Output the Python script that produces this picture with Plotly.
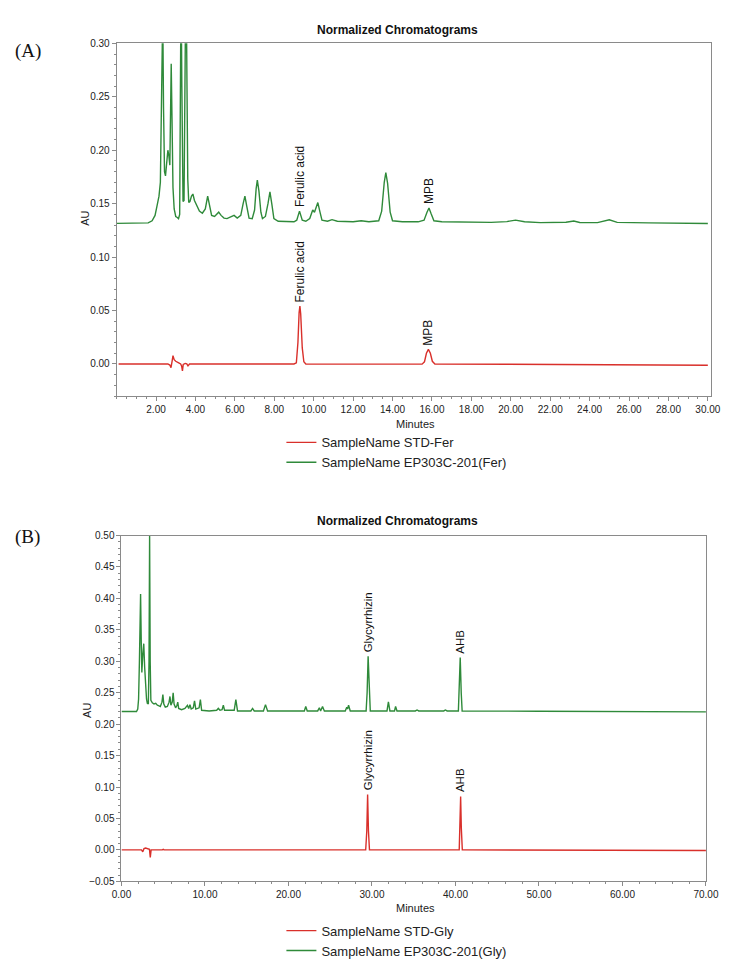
import plotly.graph_objects as go

# ---------------- Data ----------------
# Panel A: ferulic acid chromatograms (minutes, AU)
a_green_t = [0.00, 1.00, 1.60, 1.80, 1.95, 2.05, 2.15, 2.22, 2.27, 2.31, 2.34, 2.38, 2.43, 2.48,
             2.55, 2.60, 2.65, 2.70, 2.74, 2.77, 2.81, 2.86, 2.92, 3.00, 3.08, 3.14, 3.20, 3.24,
             3.27, 3.31, 3.37, 3.42, 3.47, 3.52, 3.57, 3.61, 3.66, 3.72, 3.80, 3.87, 3.95, 4.05,
             4.20, 4.35, 4.50, 4.62, 4.72, 4.82, 4.97, 5.10, 5.18, 5.30, 5.45, 5.60, 5.75, 5.96,
             6.12, 6.30, 6.42, 6.51, 6.60, 6.72, 6.88, 7.00, 7.08, 7.14, 7.22, 7.32, 7.40, 7.55,
             7.68, 7.78, 7.88, 7.98, 8.20, 8.60, 9.00, 9.14, 9.28, 9.42, 9.60, 9.80, 9.95, 10.04,
             10.21, 10.32, 10.42, 10.70, 10.93, 11.20, 12.00, 12.41, 12.80, 13.30, 13.45, 13.58,
             13.66, 13.75, 13.88, 14.00, 14.50, 15.30, 15.60, 15.75, 15.85, 15.95, 16.10, 16.50,
             17.50, 19.00, 19.80, 20.24, 20.70, 21.50, 22.80, 23.20, 23.50, 24.40, 25.00, 25.40,
             27.00, 30.00]
a_green_v = [0.1315, 0.1315, 0.1320, 0.1340, 0.1390, 0.1480, 0.1570, 0.1700, 0.2300, 0.3200,
             0.3300, 0.2400, 0.1800, 0.1760, 0.1900, 0.2000, 0.1950, 0.1860, 0.2400, 0.2810,
             0.2300, 0.1650, 0.1450, 0.1380, 0.1370, 0.1360, 0.1400, 0.2500, 0.3600, 0.2600,
             0.1520, 0.1530, 0.2600, 0.3800, 0.2600, 0.1730, 0.1510, 0.1520, 0.1570, 0.1590,
             0.1530, 0.1490, 0.1430, 0.1410, 0.1450, 0.1570, 0.1460, 0.1390, 0.1380, 0.1400,
             0.1420, 0.1390, 0.1365, 0.1360, 0.1370, 0.1390, 0.1365, 0.1390, 0.1500, 0.1570,
             0.1480, 0.1365, 0.1360, 0.1440, 0.1640, 0.1720, 0.1620, 0.1420, 0.1360, 0.1380,
             0.1500, 0.1610, 0.1490, 0.1360, 0.1335, 0.1330, 0.1330, 0.1345, 0.1430, 0.1345,
             0.1335, 0.1360, 0.1440, 0.1420, 0.1510, 0.1420, 0.1345, 0.1335, 0.1350, 0.1335,
             0.1330, 0.1340, 0.1330, 0.1340, 0.1430, 0.1700, 0.1790, 0.1690, 0.1420, 0.1340,
             0.1330, 0.1330, 0.1345, 0.1420, 0.1460, 0.1410, 0.1340, 0.1330, 0.1328, 0.1325,
             0.1332, 0.1346, 0.1330, 0.1322, 0.1326, 0.1337, 0.1324, 0.1322, 0.1349, 0.1325,
             0.1320, 0.1314]

a_red_t = [0.10, 2.60, 2.70, 2.76, 2.82, 2.86, 2.92, 3.00, 3.15, 3.25, 3.30, 3.34, 3.38, 3.48,
           3.56, 3.62, 3.70, 9.00, 9.12, 9.20, 9.26, 9.30, 9.34, 9.42, 9.50, 9.60, 15.50, 15.62,
           15.72, 15.82, 15.92, 16.02, 16.15, 30.00]
a_red_v = [0.0000, 0.0000, -0.0010, -0.0035, 0.0030, 0.0077, 0.0040, 0.0025, 0.0010, 0.0000,
           -0.0020, -0.0065, -0.0005, 0.0005, 0.0000, -0.0018, 0.0000, 0.0000, 0.0010, 0.0200,
           0.0480, 0.0541, 0.0470, 0.0150, 0.0020, 0.0000, -0.0002, 0.0020, 0.0100, 0.0136,
           0.0100, 0.0025, 0.0000, -0.0012]

# Panel B: glycyrrhizin chromatograms (minutes, AU)
b_green_t = [0.00, 1.80, 1.95, 2.05, 2.15, 2.29, 2.37, 2.44, 2.55, 2.67, 2.78, 2.87, 3.00, 3.10,
             3.22, 3.30, 3.37, 3.44, 3.52, 3.70, 3.90, 4.10, 4.30, 4.50, 4.65, 4.85, 4.96, 5.07,
             5.25, 5.50, 5.70, 5.81, 5.92, 6.08, 6.19, 6.30, 6.48, 6.65, 6.74, 6.85, 7.20, 7.60,
             7.90, 8.05, 8.20, 8.35, 8.60, 8.75, 8.90, 9.30, 9.45, 9.60, 10.50, 11.40, 11.60,
             11.80, 12.05, 12.20, 12.35, 13.50, 13.70, 13.90, 15.50, 15.70, 15.90, 17.00, 17.25,
             17.50, 19.00, 20.50, 21.90, 22.07, 22.25, 23.50, 23.70, 23.85, 24.08, 24.30, 26.80,
             26.98, 27.08, 27.20, 27.40, 29.30, 29.42, 29.54, 29.66, 29.80, 31.80, 31.97, 32.15,
             32.70, 32.83, 33.00, 35.20, 35.40, 35.60, 37.00, 38.60, 38.80, 39.00, 40.35, 40.45,
             40.57, 40.69, 40.80, 50.00, 60.00, 70.00]
b_green_v = [0.220, 0.220, 0.224, 0.240, 0.300, 0.407, 0.330, 0.282, 0.310, 0.328, 0.290, 0.259,
             0.240, 0.233, 0.232, 0.300, 0.4995, 0.300, 0.238, 0.234, 0.232, 0.233, 0.230, 0.229,
             0.228, 0.235, 0.247, 0.232, 0.227, 0.228, 0.235, 0.244, 0.230, 0.235, 0.250, 0.232,
             0.226, 0.230, 0.235, 0.225, 0.223, 0.225, 0.230, 0.225, 0.231, 0.224, 0.226, 0.237,
             0.224, 0.226, 0.239, 0.222, 0.221, 0.222, 0.225, 0.222, 0.223, 0.230, 0.222, 0.222,
             0.239, 0.221, 0.221, 0.225, 0.221, 0.221, 0.231, 0.221, 0.221, 0.221, 0.221, 0.228,
             0.221, 0.221, 0.226, 0.221, 0.228, 0.221, 0.221, 0.227, 0.224, 0.230, 0.221, 0.221,
             0.250, 0.308, 0.250, 0.221, 0.221, 0.2355, 0.221, 0.221, 0.228, 0.221, 0.221, 0.2225,
             0.221, 0.2215, 0.2210, 0.2225, 0.2210, 0.221, 0.250, 0.306, 0.250, 0.221, 0.2205,
             0.220, 0.2195]

b_red_t = [0.00, 2.40, 2.55, 2.70, 2.90, 3.20, 3.35, 3.45, 3.55, 4.90, 5.00, 5.10, 29.25, 29.38,
           29.48, 29.58, 29.70, 40.45, 40.55, 40.62, 40.70, 40.82, 70.00]
b_red_v = [0.000, 0.000, -0.003, 0.002, 0.003, 0.002, 0.001, -0.012, 0.000, 0.000, 0.001, 0.000,
           0.000, 0.030, 0.088, 0.030, 0.000, 0.000, 0.040, 0.085, 0.035, 0.000, -0.001]

legend_a = ["SampleName STD-Fer", "SampleName EP303C-201(Fer)"]
legend_b = ["SampleName STD-Gly", "SampleName EP303C-201(Gly)"]
panel_titles = ["Normalized Chromatograms", "Normalized Chromatograms"]
panel_tags = ["(A)", "(B)"]

# peak labels: (text, minutes, AU at peak)
labels_a_green = [("Ferulic acid", 9.28, 0.143), ("MPB", 15.85, 0.146)]
labels_a_red = [("Ferulic acid", 9.30, 0.0541), ("MPB", 15.82, 0.0136)]
labels_b_green = [("Glycyrrhizin", 29.54, 0.308), ("AHB", 40.57, 0.306)]
labels_b_red = [("Glycyrrhizin", 29.48, 0.088), ("AHB", 40.62, 0.085)]

a_xticks = [2, 4, 6, 8, 10, 12, 14, 16, 18, 20, 22, 24, 26, 28, 30]

# ---------------- Styling ----------------
W, H = 749, 966
RED = "#d9302b"
GREEN = "#2f8a3a"
AXC = "#8a8a8a"
NARROW = "Liberation Sans Narrow, Arial Narrow, Liberation Sans, Arial"
SANS = "Liberation Sans, Arial, sans-serif"


def px(x):
    return x / W


def py(y):
    return 1 - y / H


fig = go.Figure()

fig.add_trace(go.Scatter(x=a_red_t, y=a_red_v, mode="lines", name=legend_a[0],
                         line=dict(color=RED, width=1.4), xaxis="x", yaxis="y",
                         legend="legend"))
fig.add_trace(go.Scatter(x=a_green_t, y=a_green_v, mode="lines", name=legend_a[1],
                         line=dict(color=GREEN, width=1.4), xaxis="x", yaxis="y",
                         legend="legend"))
fig.add_trace(go.Scatter(x=b_red_t, y=b_red_v, mode="lines", name=legend_b[0],
                         line=dict(color=RED, width=1.4), xaxis="x2", yaxis="y2",
                         legend="legend2"))
fig.add_trace(go.Scatter(x=b_green_t, y=b_green_v, mode="lines", name=legend_b[1],
                         line=dict(color=GREEN, width=1.4), xaxis="x2", yaxis="y2",
                         legend="legend2"))

tickfont = dict(family=NARROW, size=10, color="#222")
common_axis = dict(showgrid=False, zeroline=False, showline=True, linecolor=AXC, linewidth=1,
                   mirror=True, ticks="outside", ticklen=4, tickcolor=AXC, tickfont=tickfont,
                   tickformat=".2f")

fig.update_layout(
    width=W, height=H,
    margin=dict(l=0, r=0, t=0, b=0),
    paper_bgcolor="white", plot_bgcolor="white",
    font=dict(family=SANS, color="#222"),
    xaxis=dict(domain=[px(110), px(723)], range=[0, 30.15], anchor="y",
               tickvals=a_xticks,
               minor=dict(dtick=0.5, tick0=0, ticks="outside", ticklen=2, tickcolor=AXC),
               **common_axis),
    yaxis=dict(domain=[py(397), py(38)], range=[-0.03, 0.30], anchor="x",
               dtick=0.05, tick0=0,
               minor=dict(dtick=0.01, tick0=0, ticks="outside", ticklen=2, tickcolor=AXC),
               **common_axis),
    xaxis2=dict(domain=[px(115), px(718)], range=[0, 70], anchor="y2",
                dtick=10, tick0=0,
                minor=dict(dtick=2, tick0=0, ticks="outside", ticklen=2, tickcolor=AXC),
                **common_axis),
    yaxis2=dict(domain=[py(891), py(539)], range=[-0.05, 0.50], anchor="x2",
                dtick=0.05, tick0=0,
                minor=dict(dtick=0.01, tick0=0, ticks="outside", ticklen=2, tickcolor=AXC),
                **common_axis),
    legend=dict(x=px(280), y=py(429), xanchor="left", yanchor="top",
                font=dict(family=SANS, size=13, color="#222"),
                bgcolor="rgba(0,0,0,0)", tracegroupgap=0, traceorder="normal"),
    legend2=dict(x=px(280), y=py(926), xanchor="left", yanchor="top",
                 font=dict(family=SANS, size=13, color="#222"),
                 bgcolor="rgba(0,0,0,0)", tracegroupgap=0, traceorder="normal"),
    showlegend=True,
)

ann = []
# panel titles
for title, yy in zip(panel_titles, [24, 524]):
    ann.append(dict(text="<b>" + title + "</b>", x=px(400), y=py(yy), xref="paper", yref="paper",
                    showarrow=False, xanchor="center", yanchor="middle",
                    font=dict(family=SANS, size=12, color="#111")))
# panel tags
for tag, yy in zip(panel_tags, [46, 541]):
    ann.append(dict(text=tag, x=px(3), y=py(yy), xref="paper", yref="paper", showarrow=False,
                    xanchor="left", yanchor="middle",
                    font=dict(family="Liberation Serif, Times New Roman, serif", size=19,
                              color="#111")))
# axis titles
for xx, yy in [(78, 216), (80, 717)]:
    ann.append(dict(text="AU", x=px(xx), y=py(yy), xref="paper", yref="paper", showarrow=False,
                    textangle=-90, xanchor="center", yanchor="middle",
                    font=dict(family=NARROW, size=11, color="#222")))
for xx, yy in [(418, 425), (418, 918)]:
    ann.append(dict(text="Minutes", x=px(xx), y=py(yy), xref="paper", yref="paper",
                    showarrow=False, xanchor="center", yanchor="middle",
                    font=dict(family=NARROW, size=11, color="#222")))
# peak labels
for group, xr, yr, fs in [(labels_a_green, "x", "y", 12), (labels_a_red, "x", "y", 12),
                          (labels_b_green, "x2", "y2", 11.5), (labels_b_red, "x2", "y2", 11.5)]:
    for text, t, v in group:
        ann.append(dict(text=text, x=t, y=v, xref=xr, yref=yr, showarrow=False, textangle=-90,
                        xanchor="center", yanchor="bottom", yshift=2,
                        font=dict(family=SANS, size=fs, color="#111")))

fig.update_layout(annotations=ann)
fig.write_html(
    "out.html",
    config={"displayModeBar": False},
    post_script="document.body.style.margin='0';document.body.style.padding='0';"
                "document.documentElement.style.overflow='hidden';",
)
